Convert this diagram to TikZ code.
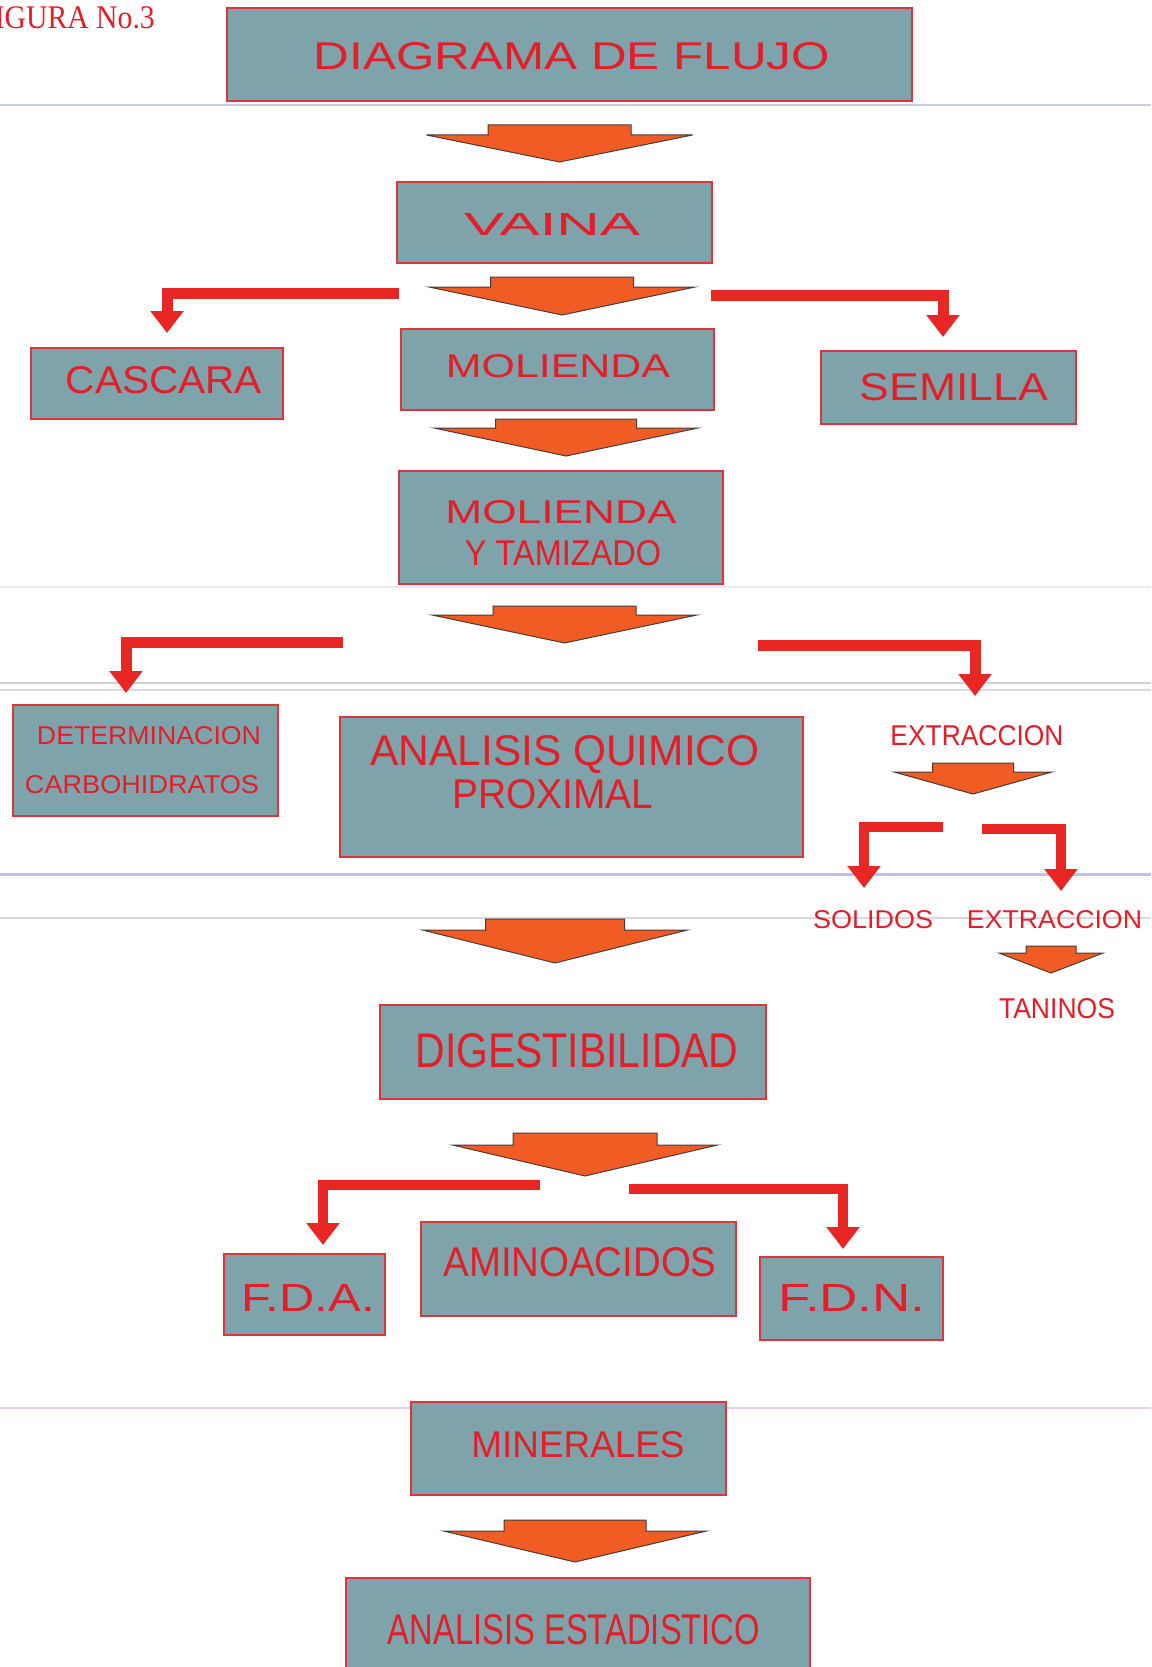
\documentclass[tikz,border=0pt]{standalone}
\usepackage{fontspec}
\setmainfont{Liberation Sans}
\newfontfamily\serifa{Liberation Serif}
\usetikzlibrary{arrows.meta}
\definecolor{boxfill}{RGB}{127,163,170}
\definecolor{boxline}{RGB}{222,52,58}
\definecolor{txtred}{RGB}{226,30,40}
\definecolor{arrfill}{RGB}{240,92,36}
\definecolor{arrline}{RGB}{72,60,58}
\definecolor{conred}{RGB}{232,38,36}
\newcommand\fitlbl[3]{\resizebox{#1pt}{#2pt}{#3}}
\newcommand\fatarrow[6]{%
  \draw[fat] (#1-#5,#2) -- (#1+#5,#2) -- (#1+#5,#3) -- (#1+#6,#3) -- (#1,#4)
     -- (#1-#6,#3) -- (#1-#5,#3) -- cycle;}
\begin{document}
\begin{tikzpicture}[x=1pt,y=-1pt,
  box/.style={draw=boxline,line width=1.6pt,fill=boxfill,inner sep=0pt,outer sep=0pt},
  lbl/.style={text=txtred,inner sep=0pt,outer sep=0pt,anchor=base},
  fat/.style={fill=arrfill,draw=arrline,line width=1pt,line join=miter},
  link/.style={draw=conred,line width=11pt,line join=miter,-{Triangle[width=32pt,length=22pt]}},
  slink/.style={link,line width=10pt},
  scan/.style={line width=1.5pt}]
\useasboundingbox (0,0) rectangle (1151,1667);
\clip (0,0) rectangle (1151,1667);
% faint scan lines
\draw[scan,color={rgb,255:red,202;green,205;blue,224},line width=2pt] (0,105) -- (1151,105);
\draw[scan,color={rgb,255:red,236;green,236;blue,240}] (0,587) -- (1151,587);
\draw[scan,color={rgb,255:red,208;green,208;blue,214},line width=2pt] (0,683) -- (1151,683);
\draw[scan,color={rgb,255:red,218;green,218;blue,224}] (0,690) -- (1151,690);
\draw[scan,color={rgb,255:red,192;green,192;blue,228},line width=3pt] (0,874) -- (1151,874);
\draw[scan,color={rgb,255:red,216;green,216;blue,222},line width=1.2pt] (0,918) -- (1151,918);
\draw[scan,color={rgb,255:red,234;green,208;blue,234},line width=1.2pt] (0,1408) -- (1151,1408);

% figure caption
\node[anchor=base east,inner sep=0pt,text=txtred,font=\serifa\fontsize{33}{33}\selectfont] (fig) at (155,29) {\scalebox{0.9}[1]{FIGURA No.3}};

% boxes
\node[box,minimum width=685pt,minimum height=93pt] (title) at (569.5,54.5) {};
\node[box,minimum width=315pt,minimum height=81pt] (vaina) at (554.5,222.5) {};
\node[box,minimum width=252pt,minimum height=71pt] (cascara) at (157,383.5) {};
\node[box,minimum width=313pt,minimum height=81pt] (molienda) at (557.5,369.5) {};
\node[box,minimum width=255pt,minimum height=73pt] (semilla) at (948.5,387.5) {};
\node[box,minimum width=324pt,minimum height=113pt] (moltam) at (561,527.5) {};
\node[box,minimum width=265pt,minimum height=111pt] (determ) at (145.5,760.5) {};
\node[box,minimum width=463pt,minimum height=140pt] (analisis) at (571.5,787) {};
\node[box,minimum width=386pt,minimum height=94pt] (digest) at (573,1052) {};
\node[box,minimum width=161pt,minimum height=81pt] (fda) at (304.5,1294.5) {};
\node[box,minimum width=315pt,minimum height=94pt] (amino) at (578.5,1269) {};
\node[box,minimum width=183pt,minimum height=83pt] (fdn) at (851.5,1298.5) {};
\node[box,minimum width=315pt,minimum height=93pt] (minerales) at (568.5,1448.5) {};
\node[box,minimum width=464pt,minimum height=122pt] (estad) at (578,1639) {};

% labels
\node[lbl] (t-title) at (572,70) {\fitlbl{516}{27}{DIAGRAMA DE FLUJO}};
\node[lbl] (t-vaina) at (552,235) {\fitlbl{176}{22}{VAINA}};
\node[lbl] (t-cascara) at (164,393) {\fitlbl{196}{27}{CASCARA}};
\node[lbl] (t-molienda) at (558,377) {\fitlbl{224}{23}{MOLIENDA}};
\node[lbl] (t-semilla) at (954,400) {\fitlbl{188}{27}{SEMILLA}};
\node[lbl] (t-moltam1) at (561,523) {\fitlbl{231}{23}{MOLIENDA}};
\node[lbl] (t-moltam2) at (563,565) {\fitlbl{196}{25}{Y TAMIZADO}};
\node[lbl] (t-determ1) at (149,744) {\fitlbl{224}{18}{DETERMINACION}};
\node[lbl] (t-determ2) at (142,793) {\fitlbl{234}{18}{CARBOHIDRATOS}};
\node[lbl] (t-analisis1) at (565,765) {\fitlbl{389}{30}{ANALISIS QUIMICO}};
\node[lbl] (t-analisis2) at (553,808) {\fitlbl{201}{29}{PROXIMAL}};
\node[lbl] (ext1) at (977,745) {\fitlbl{173}{20}{EXTRACCION}};
\node[lbl] (solidos) at (873,928) {\fitlbl{120}{18}{SOLIDOS}};
\node[lbl] (ext2) at (1054.5,928) {\fitlbl{175}{18}{EXTRACCION}};
\node[lbl] (taninos) at (1057,1018) {\fitlbl{116}{20}{TANINOS}};
\node[lbl] (t-digest) at (577,1067) {\fitlbl{323}{34}{DIGESTIBILIDAD}};
\node[lbl] (t-fda) at (308,1311) {\fitlbl{133}{27}{F.D.A.}};
\node[lbl] (t-amino) at (580,1276) {\fitlbl{273}{29}{AMINOACIDOS}};
\node[lbl] (t-fdn) at (852,1311) {\fitlbl{147}{27}{F.D.N.}};
\node[lbl] (t-minerales) at (578,1457) {\fitlbl{213}{26}{MINERALES}};
\node[lbl] (t-estad) at (574,1644) {\fitlbl{372}{30}{ANALISIS ESTADISTICO}};

% block arrows
\fatarrow{559.5}{125}{135}{162}{71.5}{133}
\fatarrow{562}{277}{287}{315}{71.5}{133}
\fatarrow{566}{419}{428}{456}{70.5}{132}
\fatarrow{564.5}{606}{615}{643}{71.5}{132.5}
\fatarrow{555}{919}{930}{963}{69.5}{132.5}
\fatarrow{585}{1133}{1145}{1176}{72}{132.5}
\fatarrow{575}{1520}{1531}{1562}{71}{131.5}
\fatarrow{973}{763}{772}{794}{40.5}{79}
\fatarrow{1051}{946}{953}{973}{25}{52}

% L-shaped connectors
\coordinate (l1s) at (399,293.5);
\coordinate (r1s) at (711,295.5);
\coordinate (l2s) at (343,642.5);
\coordinate (r2s) at (758,645);
\coordinate (l3s) at (943,827);
\coordinate (r3s) at (982,829);
\coordinate (l4s) at (540,1185);
\coordinate (r4s) at (629,1189);
\draw[link,shorten >=15pt] (l1s) -| ([xshift=10pt]cascara.north);
\draw[link,shorten >=14pt] (r1s) -| ([xshift=-5.5pt]semilla.north);
\draw[link,shorten >=12pt] (l2s) -| ([xshift=-19.5pt]determ.north);
\draw[link,shorten >=29pt] (r2s) -| ([xshift=-2pt]ext1.north);
\draw[slink,shorten >=22pt] (l3s) -| ([xshift=-9pt]solidos.north);
\draw[slink,shorten >=19pt] (r3s) -| ([xshift=6.5pt]ext2.north);
\draw[slink,shorten >=9pt] (l4s) -| ([xshift=18.5pt]fda.north);
\draw[slink,shorten >=8pt] (r4s) -| ([xshift=-8.5pt]fdn.north);
\end{tikzpicture}
\end{document}
